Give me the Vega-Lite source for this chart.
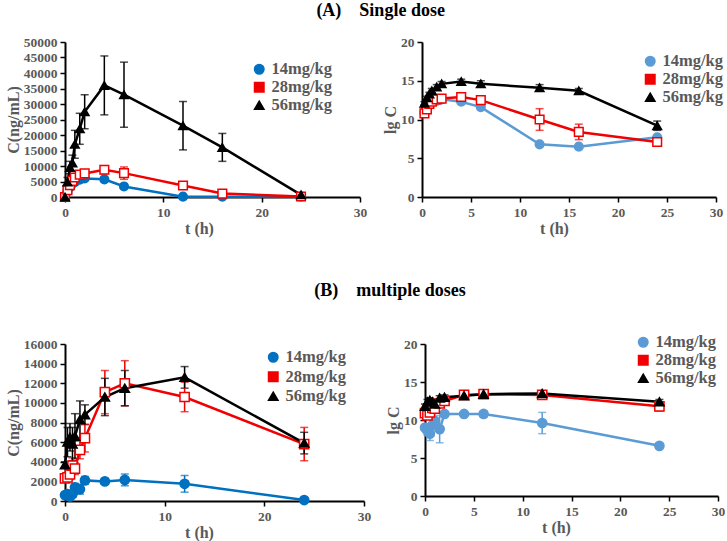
{
  "$schema": "https://vega.github.io/schema/vega-lite/v6.json",
  "background": "white",
  "padding": {"left": 5, "top": 2, "right": 0, "bottom": 0},
  "config": {
    "view": {"stroke": null},
    "font": "Liberation Serif",
    "axis": {"grid": false, "domainColor": "#000000", "domainWidth": 2, "tickColor": "#000000", "tickWidth": 1.5, "tickSize": 5, "labelFont": "Liberation Serif", "labelFontSize": 13.5, "labelFontWeight": "bold", "labelColor": "#595959", "labelPadding": 3, "titleFont": "Liberation Serif", "titleFontSize": 16, "titleFontWeight": "bold", "titleColor": "#595959", "titlePadding": 2, "labelFlush": false, "labelOverlap": false},
    "legend": {"labelFont": "Liberation Serif", "labelFontSize": 16.5, "labelFontWeight": "bold", "labelColor": "#595959", "symbolStrokeWidth": 1.5, "symbolOpacity": 1, "labelOffset": 4, "rowPadding": 1, "padding": 0, "symbolSize": 90},
    "title": {"font": "Liberation Serif", "fontSize": 18, "fontWeight": "bold", "color": "#000000", "anchor": "middle"}
  },
  "datasets": {
    "sLin": [
      {"t": 0, "dose": "14mg/kg", "v": 0, "e": 0},
      {"t": 0.25, "dose": "14mg/kg", "v": 1800, "e": 300},
      {"t": 0.5, "dose": "14mg/kg", "v": 3200, "e": 500},
      {"t": 0.75, "dose": "14mg/kg", "v": 4300, "e": 600},
      {"t": 1, "dose": "14mg/kg", "v": 4800, "e": 500},
      {"t": 1.5, "dose": "14mg/kg", "v": 5600, "e": 600},
      {"t": 2, "dose": "14mg/kg", "v": 6000, "e": 500},
      {"t": 4, "dose": "14mg/kg", "v": 5700, "e": 700},
      {"t": 6, "dose": "14mg/kg", "v": 3400, "e": 500},
      {"t": 12, "dose": "14mg/kg", "v": 100, "e": 0},
      {"t": 16, "dose": "14mg/kg", "v": 80, "e": 0},
      {"t": 24, "dose": "14mg/kg", "v": 150, "e": 0},
      {"t": 0, "dose": "28mg/kg", "v": 0, "e": 0},
      {"t": 0.25, "dose": "28mg/kg", "v": 2200, "e": 800},
      {"t": 0.5, "dose": "28mg/kg", "v": 3800, "e": 900},
      {"t": 0.75, "dose": "28mg/kg", "v": 5200, "e": 1000},
      {"t": 1, "dose": "28mg/kg", "v": 6300, "e": 900},
      {"t": 1.5, "dose": "28mg/kg", "v": 7200, "e": 1000},
      {"t": 2, "dose": "28mg/kg", "v": 7600, "e": 900},
      {"t": 4, "dose": "28mg/kg", "v": 8800, "e": 1300},
      {"t": 6, "dose": "28mg/kg", "v": 7700, "e": 2000},
      {"t": 12, "dose": "28mg/kg", "v": 3700, "e": 1200},
      {"t": 16, "dose": "28mg/kg", "v": 1100, "e": 500},
      {"t": 24, "dose": "28mg/kg", "v": 150, "e": 100},
      {"t": 0, "dose": "56mg/kg", "v": 0, "e": 0},
      {"t": 0.25, "dose": "56mg/kg", "v": 4800, "e": 1500},
      {"t": 0.5, "dose": "56mg/kg", "v": 9500, "e": 2000},
      {"t": 0.75, "dose": "56mg/kg", "v": 11000, "e": 2500},
      {"t": 1, "dose": "56mg/kg", "v": 17000, "e": 4500},
      {"t": 1.5, "dose": "56mg/kg", "v": 22000, "e": 5000},
      {"t": 2, "dose": "56mg/kg", "v": 27500, "e": 5500},
      {"t": 4, "dose": "56mg/kg", "v": 36000, "e": 9500},
      {"t": 6, "dose": "56mg/kg", "v": 33000, "e": 10500},
      {"t": 12, "dose": "56mg/kg", "v": 23000, "e": 7800},
      {"t": 16, "dose": "56mg/kg", "v": 16000, "e": 4500},
      {"t": 24, "dose": "56mg/kg", "v": 700, "e": 300}
    ],
    "sLog": [
      {"t": 0.25, "dose": "14mg/kg", "v": 10.9, "e": 0.3},
      {"t": 0.5, "dose": "14mg/kg", "v": 11.5, "e": 0.3},
      {"t": 0.75, "dose": "14mg/kg", "v": 12.0, "e": 0.3},
      {"t": 1, "dose": "14mg/kg", "v": 12.2, "e": 0.3},
      {"t": 1.5, "dose": "14mg/kg", "v": 12.4, "e": 0.3},
      {"t": 2, "dose": "14mg/kg", "v": 12.6, "e": 0.3},
      {"t": 4, "dose": "14mg/kg", "v": 12.3, "e": 0.3},
      {"t": 6, "dose": "14mg/kg", "v": 11.6, "e": 0.3},
      {"t": 12, "dose": "14mg/kg", "v": 6.8, "e": 0},
      {"t": 16, "dose": "14mg/kg", "v": 6.5, "e": 0},
      {"t": 24, "dose": "14mg/kg", "v": 7.7, "e": 0.2},
      {"t": 0.25, "dose": "28mg/kg", "v": 10.8, "e": 0.4},
      {"t": 0.5, "dose": "28mg/kg", "v": 11.3, "e": 0.4},
      {"t": 0.75, "dose": "28mg/kg", "v": 12.0, "e": 0.3},
      {"t": 1, "dose": "28mg/kg", "v": 12.3, "e": 0.3},
      {"t": 1.5, "dose": "28mg/kg", "v": 12.6, "e": 0.4},
      {"t": 2, "dose": "28mg/kg", "v": 12.7, "e": 0.3},
      {"t": 4, "dose": "28mg/kg", "v": 12.9, "e": 0.4},
      {"t": 6, "dose": "28mg/kg", "v": 12.5, "e": 0.5},
      {"t": 12, "dose": "28mg/kg", "v": 10.0, "e": 1.4},
      {"t": 16, "dose": "28mg/kg", "v": 8.4, "e": 1.0},
      {"t": 24, "dose": "28mg/kg", "v": 7.1, "e": 0.4},
      {"t": 0.25, "dose": "56mg/kg", "v": 12.1, "e": 0.2},
      {"t": 0.5, "dose": "56mg/kg", "v": 12.8, "e": 0.2},
      {"t": 0.75, "dose": "56mg/kg", "v": 13.3, "e": 0.2},
      {"t": 1, "dose": "56mg/kg", "v": 13.7, "e": 0.3},
      {"t": 1.5, "dose": "56mg/kg", "v": 14.2, "e": 0.3},
      {"t": 2, "dose": "56mg/kg", "v": 14.6, "e": 0.3},
      {"t": 4, "dose": "56mg/kg", "v": 14.9, "e": 0.3},
      {"t": 6, "dose": "56mg/kg", "v": 14.6, "e": 0.4},
      {"t": 12, "dose": "56mg/kg", "v": 14.1, "e": 0.4},
      {"t": 16, "dose": "56mg/kg", "v": 13.7, "e": 0.3},
      {"t": 24, "dose": "56mg/kg", "v": 9.2, "e": 0.6}
    ],
    "mLin": [
      {"t": 0, "dose": "14mg/kg", "v": 600, "e": 0},
      {"t": 0.25, "dose": "14mg/kg", "v": 700, "e": 200},
      {"t": 0.5, "dose": "14mg/kg", "v": 450, "e": 300},
      {"t": 0.75, "dose": "14mg/kg", "v": 700, "e": 300},
      {"t": 1, "dose": "14mg/kg", "v": 1400, "e": 400},
      {"t": 1.5, "dose": "14mg/kg", "v": 1200, "e": 500},
      {"t": 2, "dose": "14mg/kg", "v": 2100, "e": 400},
      {"t": 4, "dose": "14mg/kg", "v": 2000, "e": 300},
      {"t": 6, "dose": "14mg/kg", "v": 2150, "e": 600},
      {"t": 12, "dose": "14mg/kg", "v": 1750, "e": 850},
      {"t": 24, "dose": "14mg/kg", "v": 100, "e": 0},
      {"t": 0, "dose": "28mg/kg", "v": 2300, "e": 300},
      {"t": 0.25, "dose": "28mg/kg", "v": 2400, "e": 400},
      {"t": 0.5, "dose": "28mg/kg", "v": 2700, "e": 500},
      {"t": 0.75, "dose": "28mg/kg", "v": 3600, "e": 800},
      {"t": 1, "dose": "28mg/kg", "v": 3300, "e": 600},
      {"t": 1.5, "dose": "28mg/kg", "v": 5200, "e": 900},
      {"t": 2, "dose": "28mg/kg", "v": 6400, "e": 1400},
      {"t": 4, "dose": "28mg/kg", "v": 11100, "e": 2200},
      {"t": 6, "dose": "28mg/kg", "v": 12000, "e": 2300},
      {"t": 12, "dose": "28mg/kg", "v": 10600, "e": 1500},
      {"t": 24, "dose": "28mg/kg", "v": 5800, "e": 1700},
      {"t": 0, "dose": "56mg/kg", "v": 3700, "e": 300},
      {"t": 0.25, "dose": "56mg/kg", "v": 6000, "e": 1500},
      {"t": 0.5, "dose": "56mg/kg", "v": 6500, "e": 1400},
      {"t": 0.75, "dose": "56mg/kg", "v": 5800, "e": 1700},
      {"t": 1, "dose": "56mg/kg", "v": 6600, "e": 2300},
      {"t": 1.5, "dose": "56mg/kg", "v": 8300, "e": 1900},
      {"t": 2, "dose": "56mg/kg", "v": 8800, "e": 1000},
      {"t": 4, "dose": "56mg/kg", "v": 10600, "e": 1900},
      {"t": 6, "dose": "56mg/kg", "v": 11500, "e": 1800},
      {"t": 12, "dose": "56mg/kg", "v": 12600, "e": 1100},
      {"t": 24, "dose": "56mg/kg", "v": 5900, "e": 1100}
    ],
    "mLog": [
      {"t": 0, "dose": "14mg/kg", "v": 9.0, "e": 0.3},
      {"t": 0.25, "dose": "14mg/kg", "v": 8.6, "e": 0.6},
      {"t": 0.5, "dose": "14mg/kg", "v": 8.2, "e": 0.9},
      {"t": 0.75, "dose": "14mg/kg", "v": 9.3, "e": 0.8},
      {"t": 1, "dose": "14mg/kg", "v": 9.9, "e": 1.0},
      {"t": 1.5, "dose": "14mg/kg", "v": 8.8, "e": 1.8},
      {"t": 2, "dose": "14mg/kg", "v": 10.8, "e": 0.3},
      {"t": 4, "dose": "14mg/kg", "v": 10.8, "e": 0.2},
      {"t": 6, "dose": "14mg/kg", "v": 10.8, "e": 0.4},
      {"t": 12, "dose": "14mg/kg", "v": 9.6, "e": 1.4},
      {"t": 24, "dose": "14mg/kg", "v": 6.6, "e": 0},
      {"t": 0, "dose": "28mg/kg", "v": 10.9, "e": 0.3},
      {"t": 0.25, "dose": "28mg/kg", "v": 10.6, "e": 0.3},
      {"t": 0.5, "dose": "28mg/kg", "v": 11.0, "e": 0.3},
      {"t": 0.75, "dose": "28mg/kg", "v": 11.6, "e": 0.4},
      {"t": 1, "dose": "28mg/kg", "v": 11.5, "e": 0.3},
      {"t": 1.5, "dose": "28mg/kg", "v": 12.2, "e": 0.3},
      {"t": 2, "dose": "28mg/kg", "v": 12.5, "e": 0.3},
      {"t": 4, "dose": "28mg/kg", "v": 13.3, "e": 0.3},
      {"t": 6, "dose": "28mg/kg", "v": 13.4, "e": 0.3},
      {"t": 12, "dose": "28mg/kg", "v": 13.3, "e": 0.2},
      {"t": 24, "dose": "28mg/kg", "v": 11.8, "e": 0.6},
      {"t": 0, "dose": "56mg/kg", "v": 11.8, "e": 0.3},
      {"t": 0.25, "dose": "56mg/kg", "v": 12.4, "e": 0.3},
      {"t": 0.5, "dose": "56mg/kg", "v": 12.6, "e": 0.3},
      {"t": 0.75, "dose": "56mg/kg", "v": 12.4, "e": 0.3},
      {"t": 1, "dose": "56mg/kg", "v": 12.1, "e": 0.4},
      {"t": 1.5, "dose": "56mg/kg", "v": 12.9, "e": 0.3},
      {"t": 2, "dose": "56mg/kg", "v": 13.0, "e": 0.3},
      {"t": 4, "dose": "56mg/kg", "v": 13.2, "e": 0.3},
      {"t": 6, "dose": "56mg/kg", "v": 13.4, "e": 0.3},
      {"t": 12, "dose": "56mg/kg", "v": 13.5, "e": 0.3},
      {"t": 24, "dose": "56mg/kg", "v": 12.4, "e": 0.3}
    ]
  },
  "spacing": 45,
  "resolve": {"scale": {"color": "independent", "fill": "independent", "stroke": "independent", "shape": "independent"}, "legend": {"color": "independent", "fill": "independent", "stroke": "independent", "shape": "independent"}},
  "vconcat": [
    {
      "title": {"text": "(A)\u00a0\u00a0\u00a0\u00a0Single dose", "dx": 16, "offset": 15},
      "spacing": 15,
      "resolve": {"scale": {"color": "independent", "fill": "independent", "stroke": "independent", "shape": "independent"}, "legend": {"color": "independent", "fill": "independent", "stroke": "independent", "shape": "independent"}},
      "hconcat": [
        {
          "width": 295, "height": 155,
          "data": {"name": "sLin"},
          "encoding": {
            "x": {"field": "t", "type": "quantitative", "scale": {"domain": [0, 30], "nice": false}, "axis": {"values": [0, 10, 20, 30], "title": "t (h)", "titleX": 134}},
            "y": {"field": "v", "type": "quantitative", "scale": {"domain": [0, 50000], "nice": false}, "axis": {"values": [0, 5000, 10000, 15000, 20000, 25000, 30000, 35000, 40000, 45000, 50000], "format": "d", "title": "C(ng/mL)"}}
          },
          "layer": [
            {"transform": [{"filter": "datum.e > 0"}], "mark": {"type": "errorbar", "ticks": {"size": 8}, "thickness": 1.5},
             "encoding": {"yError": {"field": "e"}, "color": {"field": "dose", "type": "nominal", "scale": {"domain": ["14mg/kg", "28mg/kg", "56mg/kg"], "range": ["#0070C0", "#F00000", "#000000"]}}}},
            {"mark": {"type": "line", "strokeWidth": 2.5},
             "encoding": {"color": {"field": "dose", "type": "nominal"}}},
            {"mark": {"type": "point", "filled": true, "size": 75, "strokeWidth": 1.5, "opacity": 1},
             "encoding": {
               "stroke": {"field": "dose", "type": "nominal", "scale": {"domain": ["14mg/kg", "28mg/kg", "56mg/kg"], "range": ["#0070C0", "#F00000", "#000000"]}, "legend": {"title": null, "orient": "none", "legendX": 186, "legendY": 19}},
               "fill": {"field": "dose", "type": "nominal", "scale": {"domain": ["14mg/kg", "28mg/kg", "56mg/kg"], "range": ["#0070C0", "#FFFFFF", "#000000"]}},
               "shape": {"field": "dose", "type": "nominal", "scale": {"domain": ["14mg/kg", "28mg/kg", "56mg/kg"], "range": ["circle", "square", "triangle-up"]}}
             }}
          ]
        },
        {
          "width": 294, "height": 155,
          "data": {"name": "sLog"},
          "encoding": {
            "x": {"field": "t", "type": "quantitative", "scale": {"domain": [0, 30], "nice": false}, "axis": {"values": [0, 5, 10, 15, 20, 25, 30], "title": "t (h)", "titleX": 132}},
            "y": {"field": "v", "type": "quantitative", "scale": {"domain": [0, 20], "nice": false}, "axis": {"values": [0, 5, 10, 15, 20], "format": "d", "title": "lg C"}}
          },
          "layer": [
            {"transform": [{"filter": "datum.e > 0"}], "mark": {"type": "errorbar", "ticks": {"size": 8}, "thickness": 1.5},
             "encoding": {"yError": {"field": "e"}, "color": {"field": "dose", "type": "nominal", "scale": {"domain": ["14mg/kg", "28mg/kg", "56mg/kg"], "range": ["#5B9BD5", "#F00000", "#000000"]}}}},
            {"mark": {"type": "line", "strokeWidth": 2.5},
             "encoding": {"color": {"field": "dose", "type": "nominal"}}},
            {"mark": {"type": "point", "filled": true, "size": 75, "strokeWidth": 1.5, "opacity": 1},
             "encoding": {
               "stroke": {"field": "dose", "type": "nominal", "scale": {"domain": ["14mg/kg", "28mg/kg", "56mg/kg"], "range": ["#5B9BD5", "#F00000", "#000000"]}, "legend": {"title": null, "orient": "none", "legendX": 220, "legendY": 11}},
               "fill": {"field": "dose", "type": "nominal", "scale": {"domain": ["14mg/kg", "28mg/kg", "56mg/kg"], "range": ["#5B9BD5", "#FFFFFF", "#000000"]}},
               "shape": {"field": "dose", "type": "nominal", "scale": {"domain": ["14mg/kg", "28mg/kg", "56mg/kg"], "range": ["circle", "square", "triangle-up"]}}
             }}
          ]
        }
      ]
    },
    {
      "title": {"text": "(B)\u00a0\u00a0\u00a0\u00a0multiple doses", "dx": 25, "offset": 34},
      "spacing": 14,
      "resolve": {"scale": {"color": "independent", "fill": "independent", "stroke": "independent", "shape": "independent"}, "legend": {"color": "independent", "fill": "independent", "stroke": "independent", "shape": "independent"}},
      "hconcat": [
        {
          "width": 299, "height": 157,
          "data": {"name": "mLin"},
          "encoding": {
            "x": {"field": "t", "type": "quantitative", "scale": {"domain": [0, 30], "nice": false}, "axis": {"values": [0, 10, 20, 30], "title": "t (h)", "titleX": 134}},
            "y": {"field": "v", "type": "quantitative", "scale": {"domain": [0, 16000], "nice": false}, "axis": {"values": [0, 2000, 4000, 6000, 8000, 10000, 12000, 14000, 16000], "format": "d", "title": "C(ng/mL)"}}
          },
          "layer": [
            {"transform": [{"filter": "datum.e > 0"}], "mark": {"type": "errorbar", "ticks": {"size": 8}, "thickness": 1.5},
             "encoding": {"yError": {"field": "e"}, "color": {"field": "dose", "type": "nominal", "scale": {"domain": ["14mg/kg", "28mg/kg", "56mg/kg"], "range": ["#0070C0", "#F00000", "#000000"]}}}},
            {"mark": {"type": "line", "strokeWidth": 2.5},
             "encoding": {"color": {"field": "dose", "type": "nominal"}}},
            {"mark": {"type": "point", "filled": true, "size": 85, "strokeWidth": 1.5, "opacity": 1},
             "encoding": {
               "stroke": {"field": "dose", "type": "nominal", "scale": {"domain": ["14mg/kg", "28mg/kg", "56mg/kg"], "range": ["#0070C0", "#F00000", "#000000"]}, "legend": {"title": null, "orient": "none", "legendX": 200, "legendY": 5, "rowPadding": 2.5}},
               "fill": {"field": "dose", "type": "nominal", "scale": {"domain": ["14mg/kg", "28mg/kg", "56mg/kg"], "range": ["#0070C0", "#FFFFFF", "#000000"]}},
               "shape": {"field": "dose", "type": "nominal", "scale": {"domain": ["14mg/kg", "28mg/kg", "56mg/kg"], "range": ["circle", "square", "triangle-up"]}}
             }}
          ]
        },
        {
          "width": 293, "height": 152,
          "data": {"name": "mLog"},
          "encoding": {
            "x": {"field": "t", "type": "quantitative", "scale": {"domain": [0, 30], "nice": false}, "axis": {"values": [0, 5, 10, 15, 20, 25, 30], "title": "t (h)", "titleX": 131}},
            "y": {"field": "v", "type": "quantitative", "scale": {"domain": [0, 20], "nice": false}, "axis": {"values": [0, 5, 10, 15, 20], "format": "d", "title": "lg C"}}
          },
          "layer": [
            {"transform": [{"filter": "datum.e > 0"}], "mark": {"type": "errorbar", "ticks": {"size": 8}, "thickness": 1.5},
             "encoding": {"yError": {"field": "e"}, "color": {"field": "dose", "type": "nominal", "scale": {"domain": ["14mg/kg", "28mg/kg", "56mg/kg"], "range": ["#5B9BD5", "#F00000", "#000000"]}}}},
            {"mark": {"type": "line", "strokeWidth": 2.5},
             "encoding": {"color": {"field": "dose", "type": "nominal"}}},
            {"mark": {"type": "point", "filled": true, "size": 85, "strokeWidth": 1.5, "opacity": 1},
             "encoding": {
               "stroke": {"field": "dose", "type": "nominal", "scale": {"domain": ["14mg/kg", "28mg/kg", "56mg/kg"], "range": ["#5B9BD5", "#F00000", "#000000"]}, "legend": {"title": null, "orient": "none", "legendX": 210, "legendY": -10}},
               "fill": {"field": "dose", "type": "nominal", "scale": {"domain": ["14mg/kg", "28mg/kg", "56mg/kg"], "range": ["#5B9BD5", "#FFFFFF", "#000000"]}},
               "shape": {"field": "dose", "type": "nominal", "scale": {"domain": ["14mg/kg", "28mg/kg", "56mg/kg"], "range": ["circle", "square", "triangle-up"]}}
             }}
          ]
        }
      ]
    }
  ]
}
